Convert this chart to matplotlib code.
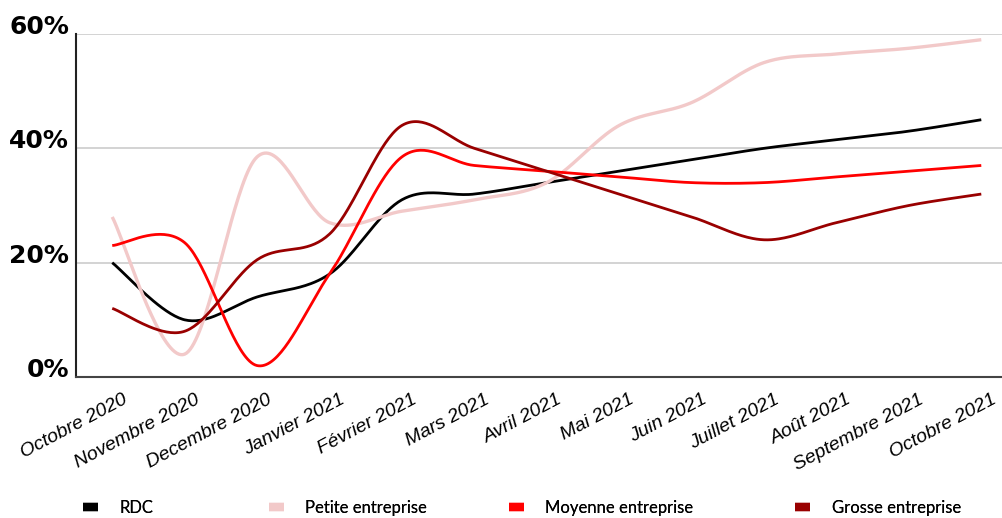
import numpy as np
import matplotlib
matplotlib.use("Agg")
import matplotlib.pyplot as plt
import matplotlib.transforms as mtransforms
from matplotlib.lines import Line2D

mois = ["Octobre 2020", "Novembre 2020", "Decembre 2020", "Janvier 2021", "Février 2021",
        "Mars 2021", "Avril 2021", "Mai 2021", "Juin 2021", "Juillet 2021", "Août 2021",
        "Septembre 2021", "Octobre 2021"]

rdc = [20, 10, 14, 18, 31, 32, 34, 36, 38, 40, 41.5, 43, 45]
petite = [28, 4, 38.5, 27, 29, 31, 34, 44, 48, 55, 56.5, 57.5, 59]
moyenne = [23, 23.5, 2, 18, 38.5, 37, 36, 35, 34, 34, 35, 36, 37]
grosse = [12, 8, 20.5, 25, 44, 40, 36, 32, 28, 24, 27, 30, 32]

series = [
    ("RDC", rdc, "#000000"),
    ("Petite entreprise", petite, "#F2C9C9"),
    ("Moyenne entreprise", moyenne, "#FF0000"),
    ("Grosse entreprise", grosse, "#990000"),
]


def lissage(y, n=40):
    # courbe lissée façon tableur : Bézier cubique avec tangentes de Catmull-Rom
    y = np.asarray(y, dtype=float)
    x = np.arange(len(y), dtype=float)
    pts = np.column_stack([x, y])
    ext = np.vstack([pts[0], pts, pts[-1]])
    xs, ys = [], []
    t = np.linspace(0, 1, n)[:, None]
    for i in range(len(pts) - 1):
        p0, p3 = pts[i], pts[i + 1]
        p1 = p0 + (ext[i + 2] - ext[i]) / 6
        p2 = p3 - (ext[i + 3] - ext[i + 1]) / 6
        b = ((1 - t) ** 3) * p0 + 3 * ((1 - t) ** 2) * t * p1 + 3 * (1 - t) * t ** 2 * p2 + t ** 3 * p3
        xs.append(b[:, 0])
        ys.append(b[:, 1])
    return np.concatenate(xs), np.concatenate(ys)


fig = plt.figure(figsize=(10.03, 5.18), dpi=100)
ax = fig.add_axes([0.0758, 0.2722, 0.9242, 0.6622])

for nom, val, coul in series:
    xx, yy = lissage(val)
    lw = 2.4 if nom == "Petite entreprise" else 2.0
    ax.plot(xx, yy, color=coul, lw=lw, solid_capstyle="butt", zorder=3)

ax.set_xlim(-0.5, 12.3)
ax.set_ylim(0, 60)
ax.set_yticks([0, 20, 40, 60])
ax.set_yticklabels(["0%", "20%", "40%", "60%"], fontsize=18, fontweight="bold",
                   family="DejaVu Sans")
for lab in ax.get_yticklabels():
    lab.set_verticalalignment("baseline")
ax.set_xticks(range(len(mois)))
ax.set_xticklabels(mois, rotation=28, ha="right", va="top", rotation_mode="anchor",
                   fontsize=14, style="italic", family="Liberation Sans")
ax.tick_params(axis="both", length=0)
ax.tick_params(axis="y", pad=5)
ax.tick_params(axis="x", pad=10)
# décale les libellés du mois un peu vers la droite
decal = mtransforms.ScaledTranslation(10 / 100, 0, fig.dpi_scale_trans)
for lab in ax.get_xticklabels():
    lab.set_transform(lab.get_transform() + decal)

ax.grid(axis="y", color="#CCCCCC", lw=1.2)
ax.set_axisbelow(True)
for s in ["top", "right"]:
    ax.spines[s].set_visible(False)
ax.spines["left"].set_color("#222222")
ax.spines["bottom"].set_color("#444444")
ax.spines["left"].set_linewidth(1.5)
ax.spines["bottom"].set_linewidth(1.5)

# une légende par série, alignées sous le graphique
pos_leg = [0.083, 0.268, 0.507, 0.793]
for (nom, _, coul), xl in zip(series, pos_leg):
    h = Line2D([], [], color=coul, lw=6, solid_capstyle="butt")
    leg = fig.legend([h], [nom], loc="center left", bbox_to_anchor=(xl, 0.019),
                     frameon=False, borderpad=0, borderaxespad=0, handlelength=0.9,
                     handletextpad=1.3, prop={"family": "Lato", "size": 12})
    fig.add_artist(leg)

fig.savefig("out.png", dpi=100)
